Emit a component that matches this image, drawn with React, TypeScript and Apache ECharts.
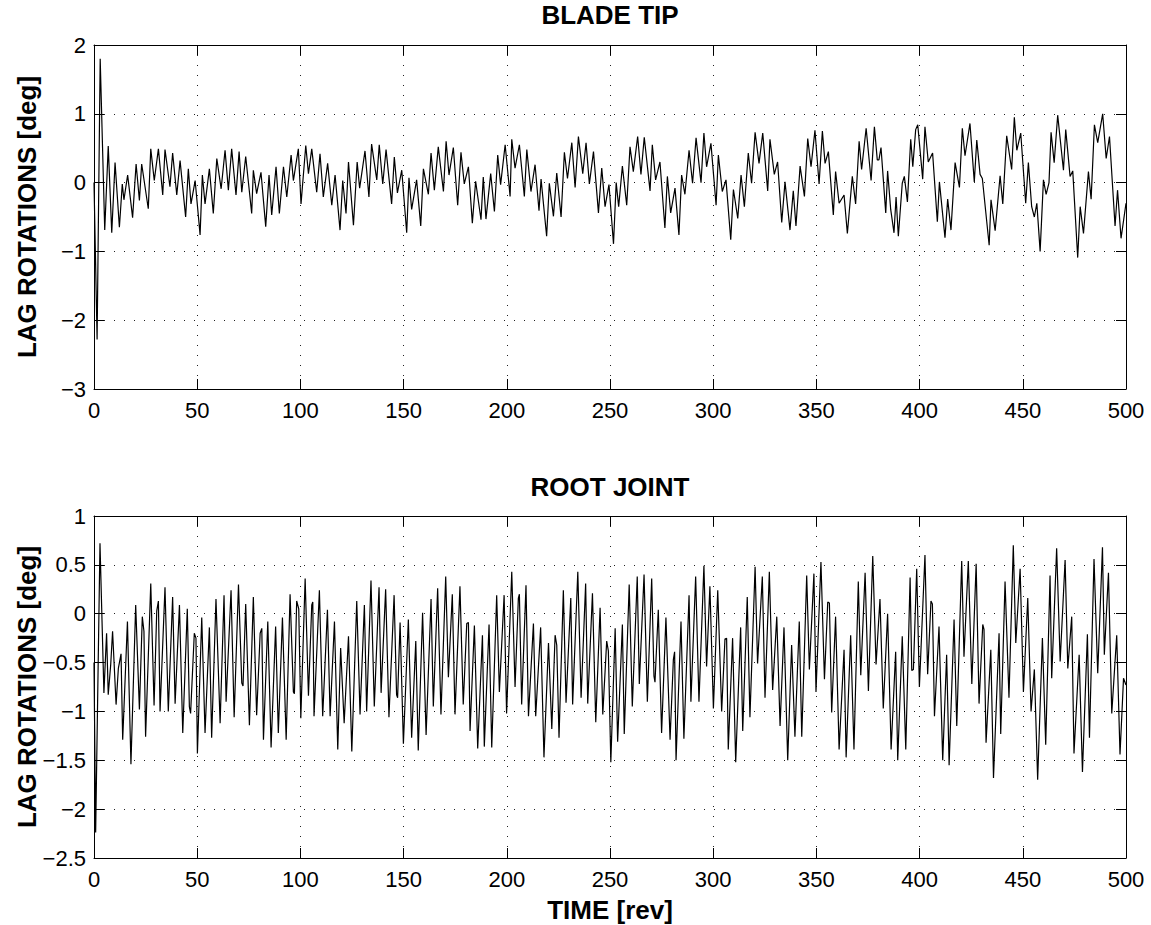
import React, { useEffect, useRef } from "react";
import * as echarts from "echarts";

// ---------- DATA: [time (rev), lag rotation (deg)] ----------
const tipPart1 = [
  [0, 0], [1.5, -2.28], [3, 1.8], [5.2, -0.69], [6.9, 0.53], [8.6, -0.73], [10.2, 0.29], [12.3, -0.65],
  [13.7, -0.02], [14.5, -0.25], [16.3, 0.11], [18.7, -0.51], [20.4, 0.27], [22, -0.26], [23.1, 0.27],
  [26.3, -0.38], [27.5, 0.49], [29.2, 0.03], [31.2, 0.49], [33.3, -0.18], [34.4, 0.48], [36.8, -0.06],
  [38.1, 0.43], [40.1, -0.18], [41.7, 0.32], [44.4, -0.5], [45.7, 0.2], [47, -0.31], [49, 0.03],
  [51.4, -0.76], [52.5, 0.11], [53.8, -0.31], [55.9, 0.2], [57.8, -0.45], [59.5, 0.35], [61.6, -0.09],
  [63.5, 0.47], [65.1, -0.11], [66.7, 0.49], [68.8, -0.18], [70.3, 0.45], [71.6, -0.14], [73.5, 0.38],
  [76.4, -0.45], [77.2, 0.18], [78.8, -0.16], [80.9, 0.15], [83.2, -0.64], [84.8, 0.11], [86.1, -0.47],
  [88.2, 0.23], [89.8, -0.45], [91.8, 0.23], [93.4, -0.21], [95.5, 0.4], [96.6, 0.03], [99, 0.49],
  [100.3, -0.31], [102.6, 0.54], [103.9, 0.13], [105.5, 0.49], [107.9, -0.14], [109.5, 0.42],
  [111.1, -0.21], [113.2, 0.28], [115.2, -0.33], [116.8, 0.11], [119.2, -0.69], [120.5, 0.03],
  [122.1, -0.45], [123.3, 0.3], [125.7, -0.62], [127.5, 0.3],
];
const tipPart2 = [
  [128.7, -0.08], [131.3, 0.46], [133.2, -0.21], [134.5, 0.56], [137, 0.04], [138.2, 0.55], [139.9, -0.02],
  [141.5, 0.48], [144.2, -0.31], [145.5, 0.37], [147, -0.15], [149.1, 0.18], [151.5, -0.73], [152.6, 0.07],
  [153.9, -0.39], [156.3, 0.04], [158.3, -0.63], [159.6, 0.2], [162, -0.17], [163.3, 0.43], [164.9, -0.11],
  [166.8, 0.52], [169.3, -0.13], [170.6, 0.6], [172, 0.11], [174.1, 0.51], [176.2, -0.33], [177.8, 0.44],
  [179.4, -0.02], [181.4, 0.23], [183.3, -0.59], [184.9, 0.02], [187.5, -0.54], [188.6, 0.08],
  [189.9, -0.53], [192.2, 0.13], [194, -0.42], [195.6, 0.4], [197, -0.03], [199.2, 0.55], [201.6, -0.2],
  [202.4, 0.63], [204, 0.21], [206.1, 0.55], [208.5, -0.2], [209.7, 0.48], [211.7, -0.13], [213.7, 0.26],
  [215.6, -0.41], [216.6, 0.05], [219.3, -0.78], [220.6, -0.01], [222.6, -0.49], [224.2, 0.14],
  [226.3, -0.5], [227.9, 0.44], [229.4, 0.06], [231.5, 0.58], [233.1, -0.07], [234.7, 0.67], [236.8, 0.13],
  [238.4, 0.58], [240, -0.02], [242, 0.45], [244.4, -0.44], [246, 0.21], [247.6, -0.35], [249.5, -0.03],
  [251.7, -0.89], [253, 0.0], [254.2, -0.35],
];
const tipPart3 = [
  [256, 0.24], [258.1, -0.33], [259.7, 0.52], [261.3, 0.16], [263.4, 0.67], [265, 0.12], [266.6, 0.66],
  [269.4, -0.12], [270.5, 0.55], [272.1, 0.04], [274.2, 0.3], [276.6, -0.66], [277.8, 0.09], [279.4, -0.44],
  [281.5, -0.08], [283.4, -0.76], [284.7, 0.11], [286.3, -0.17], [288.3, 0.47], [290, -0.01], [291.7, 0.65],
  [294.1, 0.0], [295.5, 0.72], [296.8, 0.23], [298.9, 0.57], [301.4, -0.33], [302.5, 0.4], [304.4, -0.13],
  [306.2, 0.04], [308.5, -0.83], [309.8, -0.1], [311.9, -0.52], [313.5, 0.11], [315.1, -0.35], [317, 0.43],
  [318.6, -0.01], [320.3, 0.73], [322.2, 0.28], [324, 0.72], [326.4, -0.12], [327.5, 0.63], [329.6, 0.12],
  [331.2, 0.3], [333.2, -0.58], [334.8, 0.01], [337.2, -0.69], [338.8, -0.12], [340.1, -0.63], [342.1, 0.24],
  [344.2, -0.2], [345.8, 0.64], [347.4, 0.23], [349.3, 0.76], [351.3, -0.02], [352.9, 0.75], [354.2, 0.28],
  [355.8, 0.45], [358.2, -0.47], [359.3, 0.16], [361, -0.3], [363.4, -0.18], [365, -0.74], [367.4, 0.09],
  [369, -0.31], [370.7, 0.6], [371.9, 0.19], [374.1, 0.79], [376.5, 0.03], [378.1, 0.81],
];
const tipPart4 = [
  [379.5, 0.33], [380.3, 0.33], [381.3, 0.51], [383.6, -0.44], [384.5, 0.17], [386, -0.39], [387.6, -0.73],
  [388.6, -0.21], [389.7, -0.78], [391.6, -0.01], [392.6, 0.09], [394.1, -0.28], [395.7, 0.63], [396.7, 0.23],
  [398.1, 0.77], [399.1, 0.84], [401.5, 0.05], [402.6, 0.81], [404.2, 0.3], [406.3, 0.43], [408.6, -0.57],
  [409.6, 0.01], [412.3, -0.8], [413.6, -0.24], [415.2, -0.69], [417.2, 0.29], [419.3, -0.07], [420.7, 0.79],
  [422, 0.39], [424.4, 0.86], [426.5, 0.01], [427.7, 0.62], [429.3, 0.12], [430.4, 0.06], [433.7, -0.91],
  [434.6, -0.25], [436.6, -0.7], [439, 0.1], [440.3, -0.31], [442.2, 0.68], [444.6, 0.19], [445.9, 0.95],
  [447.1, 0.47], [449, 0.72], [451.4, -0.3], [452.7, 0.29], [454.3, -0.35], [455.6, -0.5], [456.8, -0.3],
  [458.4, -1.0], [460, 0.04], [461.3, -0.17], [462.7, 0.0], [463.7, 0.73], [465.2, 0.29], [466.9, 0.98],
  [469.7, 0.18], [470.8, 0.77], [472.9, 0.09], [474.2, 0.17], [476.6, -1.09], [477.8, -0.35], [479.4, -0.74],
  [481.8, 0.16], [483.1, -0.24], [484.7, 0.84], [486.3, 0.58], [488.7, 1.0], [490.4, 0.35], [492, 0.67],
  [494.7, -0.63], [495.9, -0.11], [497.6, -0.81], [500, -0.3],
];

const rootPart1 = [
  [0, -0.5], [0.8, -2.24], [2.9, 0.72], [4.8, -0.81], [6.1, -0.2], [6.9, -0.83], [8.1, -0.52], [9, -0.18],
  [10.7, -0.93], [11.8, -0.56], [13.1, -0.41], [13.9, -1.29], [16.2, -0.08], [17.9, -1.54], [20.2, 0.09],
  [22, -0.98], [23.4, -0.03], [24.2, -0.18], [25, -1.26], [27.5, 0.31], [29.1, -0.94], [30.4, 0.03],
  [31.2, 0.13], [32, -1.0], [34.4, 0.27], [36, -1.0], [38.1, 0.17], [39.3, -0.92], [41.4, 0.09],
  [43, -1.22], [45.2, 0.05], [46.2, -0.95], [46.8, -1.02], [48.6, -0.2], [49.4, -0.25], [50.1, -1.43],
  [52.2, -0.04], [53.8, -1.22], [55.9, -0.14], [57, -1.27], [59.1, 0.15], [61.1, -1.12], [63, 0.19],
  [64, -0.9], [66.4, 0.24], [67.9, -1.06], [70, 0.3], [71.6, -0.71], [72.2, -0.74], [73.5, 0.1],
  [75.3, -1.14], [77.2, 0.17], [78.8, -1.04], [80.5, -0.2], [81.3, -0.15], [82.1, -1.29], [84.2, -0.08],
  [85.8, -1.37], [88, -0.13], [89.3, -1.22], [91.3, -0.04], [93.1, -1.29], [95, 0.2], [96.6, -0.8],
  [97.1, -0.82], [98.2, 0.13], [99.2, 0.05], [100.2, -1.07], [102.3, 0.36], [103.9, -0.84], [105.5, 0.09],
  [106, 0.12], [106.6, -1.05], [109.2, 0.24], [110.8, -1.05], [113.1, 0.04], [114.4, -1.05], [116.5, -0.08],
  [118.1, -1.39], [119.5, -0.35], [121.2, -1.12], [123.3, -0.23], [124.9, -1.41], [127.3, 0.13],
];
const rootPart2 = [
  [128.9, -1.03], [131, 0.09], [132.1, -1.0], [134.2, 0.34], [135.8, -0.95], [138.1, 0.27], [139.1, -0.81],
  [141.3, 0.25], [142.9, -1.06], [145.4, 0.19], [146.6, -0.83], [147.1, -0.86], [148.3, -0.09], [149.9, -1.33],
  [152.3, -0.06], [153.9, -1.27], [155.9, -0.28], [157.1, -1.4], [159.2, 0.01], [160.9, -1.24], [163.3, 0.15],
  [164.4, -0.95], [166.5, 0.26], [168.1, -1.03], [170.4, 0.38], [171.7, -0.65], [173.6, 0.2], [174.9, -1.03],
  [177.3, 0.28], [178.9, -0.93], [180.6, -0.1], [181.4, -0.09], [182.2, -1.2], [184.3, -0.12], [185.9, -1.38],
  [188.2, -0.22], [189.1, -1.36], [191.4, -0.11], [192.7, -1.37], [195.1, 0.19], [196.4, -0.8], [198.7, 0.19],
  [199.9, -1.02], [202.4, 0.43], [204, -0.75], [205.6, 0.16], [206.1, 0.2], [207.2, -0.93], [209.3, 0.29],
  [210.5, -1.05], [212.9, -0.1], [214, -1.05], [216.4, -0.14], [218, -1.47], [220.2, -0.3], [221.8, -1.18],
  [223.4, -0.22], [224.2, -0.32], [225.3, -1.27], [227.4, 0.24], [228.7, -0.91], [231, 0.16], [231.9, -0.93],
  [234.4, 0.43], [236, -0.86], [238.2, 0.31], [239.2, -0.92], [241.5, 0.21], [243.1, -1.11], [245.2, 0.06],
  [246.5, -1.03], [248.4, -0.28], [249.2, -0.38], [250.4, -1.52], [252.5, -0.15], [253.7, -1.31],
];
const rootPart3 = [
  [256, -0.11], [256.9, -1.23], [259.3, 0.3], [260.8, -0.95], [263.2, 0.38], [264.2, -0.72], [266.5, 0.4],
  [268.1, -0.9], [270.2, 0.36], [271.3, -0.64], [271.8, -0.7], [273.4, 0.04], [275, -1.22], [277.1, -0.04],
  [279.1, -1.29], [280.7, -0.47], [281.3, -0.39], [282, -1.5], [284.4, -0.08], [285.8, -1.28], [288.3, 0.19],
  [289.2, -0.9], [291.5, 0.38], [293.1, -0.9], [295.5, 0.49], [296.8, -0.54], [298.4, 0.28], [300.1, -0.97],
  [302.2, 0.24], [304.1, -1.0], [305.7, -0.26], [306.5, -0.25], [307.3, -1.39], [309.4, -0.25], [310.9, -1.52],
  [313.3, -0.14], [314.3, -1.2], [316.5, 0.17], [317.8, -1.06], [320.3, 0.48], [321.5, -0.51], [323.8, 0.38],
  [325.1, -0.86], [327.2, 0.43], [328.8, -0.78], [330.8, -0.03], [332.4, -1.15], [334.3, -0.14], [336.1, -1.5],
  [338, -0.32], [339.6, -1.26], [341.7, -0.08], [342.9, -1.26], [345.3, 0.39], [346.6, -0.57], [348.8, 0.41],
  [349.8, -0.8], [352.2, 0.53], [353.9, -0.67], [355.5, 0.12], [356.3, 0.11], [357.4, -1.01], [359.3, -0.03],
  [361, -1.39], [363.4, -0.37], [364.4, -1.47], [366.6, -0.22], [368.2, -1.39], [370.3, 0.33], [371.5, -0.63],
  [373.6, 0.42], [375.2, -0.79], [377.3, 0.59], [378.9, -0.52], [380.8, 0.15],
];
const rootPart4 = [
  [382.4, -0.97], [384.5, 0.0], [386.2, -1.39], [388.4, -0.39], [389.4, -1.5], [391.6, -0.23], [393.3, -1.39],
  [395.4, 0.37], [396.2, -0.58], [397, -0.57], [398.6, 0.46], [399.9, -0.75], [402.6, 0.6], [403.9, -0.62],
  [405.5, 0.13], [406.2, 0.1], [407.2, -1.05], [409.4, -0.13], [411.2, -1.5], [413.1, -0.42], [414.3, -1.55],
  [416.7, -0.06], [418, -1.15], [420.4, 0.54], [421.5, -0.44], [423.6, 0.54], [425.3, -0.72], [427.4, 0.51],
  [428.8, -0.92], [430.6, -0.11], [431.2, -0.16], [432.2, -1.32], [434.5, -0.37], [435.8, -1.68], [438.5, -0.2],
  [439.3, -1.23], [441.4, 0.33], [443.3, -0.86], [445.4, 0.7], [446.6, -0.3], [448.7, 0.46], [450.3, -0.8],
  [452.4, 0.16], [454, -1.0], [455.6, -0.57], [457.2, -1.7], [459.5, -0.25], [461.1, -1.34], [463.2, 0.39],
  [464, -0.66], [466.4, 0.67], [468.1, -0.49], [470.5, 0.55], [471.8, -0.56], [473.7, -0.03], [474.8, -1.43],
  [477.3, -0.42], [478.9, -1.62], [481.3, -0.21], [482.3, -1.27], [484.5, 0.56], [486.3, -0.61], [488.6, 0.68],
  [489.5, -0.42], [491.5, 0.42], [493.1, -1.02], [495.5, -0.22], [497.1, -1.44], [498.8, -0.66], [500, -0.73],
];

const tipData = [...tipPart1, ...tipPart2, ...tipPart3, ...tipPart4];
const rootData = [...rootPart1, ...rootPart2, ...rootPart3, ...rootPart4];

const titles = ["BLADE TIP", "ROOT JOINT"];
const yLabel = "LAG ROTATIONS [deg]";
const xLabel = "TIME [rev]";
const timeRange = { min: 0, max: 500, interval: 50 };
const tipRange = { min: -3, max: 2, interval: 1 };
const rootRange = { min: -2.5, max: 1, interval: 0.5 };

// ---------- STYLE ----------
const FONT = "'Liberation Sans', Arial, Helvetica, sans-serif";
const fmt = (v: number) => (v < 0 ? "\u2212" + String(Math.abs(v)) : String(v));

const GRIDS = [
  { left: 94, top: 45, width: 1032, height: 344 },
  { left: 94, top: 516, width: 1032, height: 342 },
];

function xAxes(gridIndex: number) {
  const common = {
    gridIndex,
    type: "value",
    ...timeRange,
    axisLine: { show: true, onZero: false, lineStyle: { color: "#000", width: 1 } },
    axisTick: { show: true, inside: true, length: 10, lineStyle: { color: "#000", width: 1 } },
  };
  return [
    {
      ...common,
      position: "bottom",
      axisLabel: { show: true, color: "#000", fontSize: 22, fontFamily: FONT, margin: 10, formatter: fmt },
      splitLine: { show: true, lineStyle: { color: "#222", width: 1, type: [1, 9] } },
    },
    {
      ...common,
      position: "top",
      axisLabel: { show: false },
      splitLine: { show: false },
    },
  ];
}

function yAxes(gridIndex: number, range: { min: number; max: number; interval: number }) {
  const common = {
    gridIndex,
    type: "value",
    ...range,
    axisLine: { show: true, onZero: false, lineStyle: { color: "#000", width: 1 } },
    axisTick: { show: true, inside: true, length: 10, lineStyle: { color: "#000", width: 1 } },
  };
  return [
    {
      ...common,
      position: "left",
      axisLabel: { show: true, color: "#000", fontSize: 22, fontFamily: FONT, margin: 8, formatter: fmt },
      splitLine: { show: true, lineStyle: { color: "#222", width: 1, type: [1, 9] } },
    },
    {
      ...common,
      position: "right",
      axisLabel: { show: false },
      splitLine: { show: false },
    },
  ];
}

function boldText(text: string, x: number, y: number, rotation = 0) {
  return {
    type: "text",
    x,
    y,
    rotation,
    silent: true,
    style: {
      text,
      fill: "#000",
      font: `bold 26px ${FONT}`,
      textAlign: "center",
      textVerticalAlign: "middle",
    },
  };
}

export default function App() {
  const ref = useRef<HTMLDivElement>(null);

  useEffect(() => {
    if (!ref.current) return;
    const chart = echarts.init(ref.current, undefined, { renderer: "svg" });
    const option = {
      animation: false,
      backgroundColor: "#fff",
      grid: GRIDS,
      xAxis: [...xAxes(0), ...xAxes(1)],
      yAxis: [...yAxes(0, tipRange), ...yAxes(1, rootRange)],
      series: [
        {
          type: "line",
          name: titles[0],
          xAxisIndex: 0,
          yAxisIndex: 0,
          data: tipData,
          symbol: "none",
          showSymbol: false,
          lineStyle: { color: "#000", width: 1.2 },
        },
        {
          type: "line",
          name: titles[1],
          xAxisIndex: 2,
          yAxisIndex: 2,
          data: rootData,
          symbol: "none",
          showSymbol: false,
          lineStyle: { color: "#000", width: 1.2 },
        },
      ],
      graphic: [
        boldText(titles[0], 610, 15),
        boldText(titles[1], 610, 487),
        boldText(xLabel, 610, 910),
        boldText(yLabel, 27, 217, Math.PI / 2),
        boldText(yLabel, 27, 687, Math.PI / 2),
      ],
    };
    chart.setOption(option as any);
    return () => chart.dispose();
  }, []);

  return (
    <div
      ref={ref}
      style={{ position: "absolute", left: 0, top: 0, width: 1151, height: 925, background: "#fff" }}
    />
  );
}
